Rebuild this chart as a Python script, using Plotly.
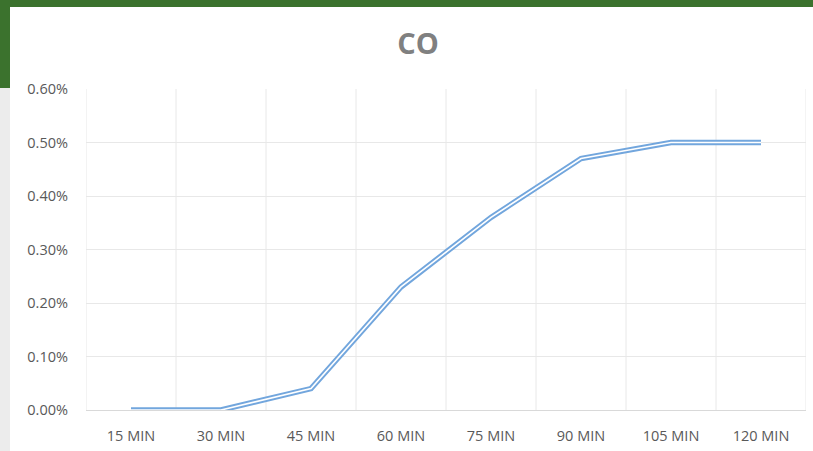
import plotly.graph_objects as go

categories = ["15 MIN", "30 MIN", "45 MIN", "60 MIN", "75 MIN", "90 MIN", "105 MIN", "120 MIN"]
co_values = [0.0000, 0.0000, 0.0004, 0.0023, 0.0036, 0.0047, 0.0050, 0.0050]
y_tick_values = [0.0, 0.001, 0.002, 0.003, 0.004, 0.005, 0.006]

W, H = 813, 451
L, R, T, B = 86, 7, 89, 41
pw, ph = W - L - R, H - T - B

def px(x):
    return (x - L) / pw

def py(y):
    return (H - B - y) / ph

fig = go.Figure()
fig.add_trace(go.Scatter(x=categories, y=co_values, mode="lines",
                         line=dict(color="#72a6dd", width=5.5), hoverinfo="skip"))
fig.add_trace(go.Scatter(x=categories, y=co_values, mode="lines",
                         line=dict(color="white", width=1.6), hoverinfo="skip"))

shapes = [
    dict(type="rect", xref="paper", yref="paper", x0=px(0), x1=px(W), y0=py(7), y1=py(0),
         fillcolor="#3b722d", line=dict(width=0), layer="above"),
    dict(type="rect", xref="paper", yref="paper", x0=px(0), x1=px(10), y0=py(88), y1=py(0),
         fillcolor="#3b722d", line=dict(width=0), layer="above"),
    dict(type="rect", xref="paper", yref="paper", x0=px(0), x1=px(10), y0=py(H), y1=py(88),
         fillcolor="#ececec", line=dict(width=0), layer="above"),
]

fig.update_layout(
    width=W, height=H,
    margin=dict(l=L, r=R, t=T, b=B),
    paper_bgcolor="white", plot_bgcolor="white",
    showlegend=False,
    shapes=shapes,
    title=dict(text="<b>CO</b>", x=418 / W, xanchor="center", y=1 - 44 / H, yanchor="middle",
               font=dict(family="Open Sans", size=29, color="#808080")),
    font=dict(family="Open Sans", size=14, color="#595959"),
)
fig.update_xaxes(type="category", range=[-0.5, 7.5], showgrid=False,
                 showline=True, linecolor="#d9d9d9", linewidth=1,
                 tickfont=dict(size=14.5, color="#595959"), ticks="", ticklabelstandoff=13)
for i in range(9):
    fig.add_shape(type="line", xref="x", yref="paper", x0=i - 0.5, x1=i - 0.5, y0=0, y1=1,
                  line=dict(color="#e8e8e8", width=1), layer="below")
fig.update_yaxes(range=[0, 0.006], tickvals=y_tick_values, tickformat=".2%",
                 showgrid=True, gridcolor="#e8e8e8", gridwidth=1, zeroline=False,
                 tickfont=dict(size=14.5, color="#595959"), ticks="", ticklabelstandoff=17)

fig.write_html("out.html", config={"displayModeBar": False},
               post_script="document.body.style.margin='0';document.body.style.padding='0';")
